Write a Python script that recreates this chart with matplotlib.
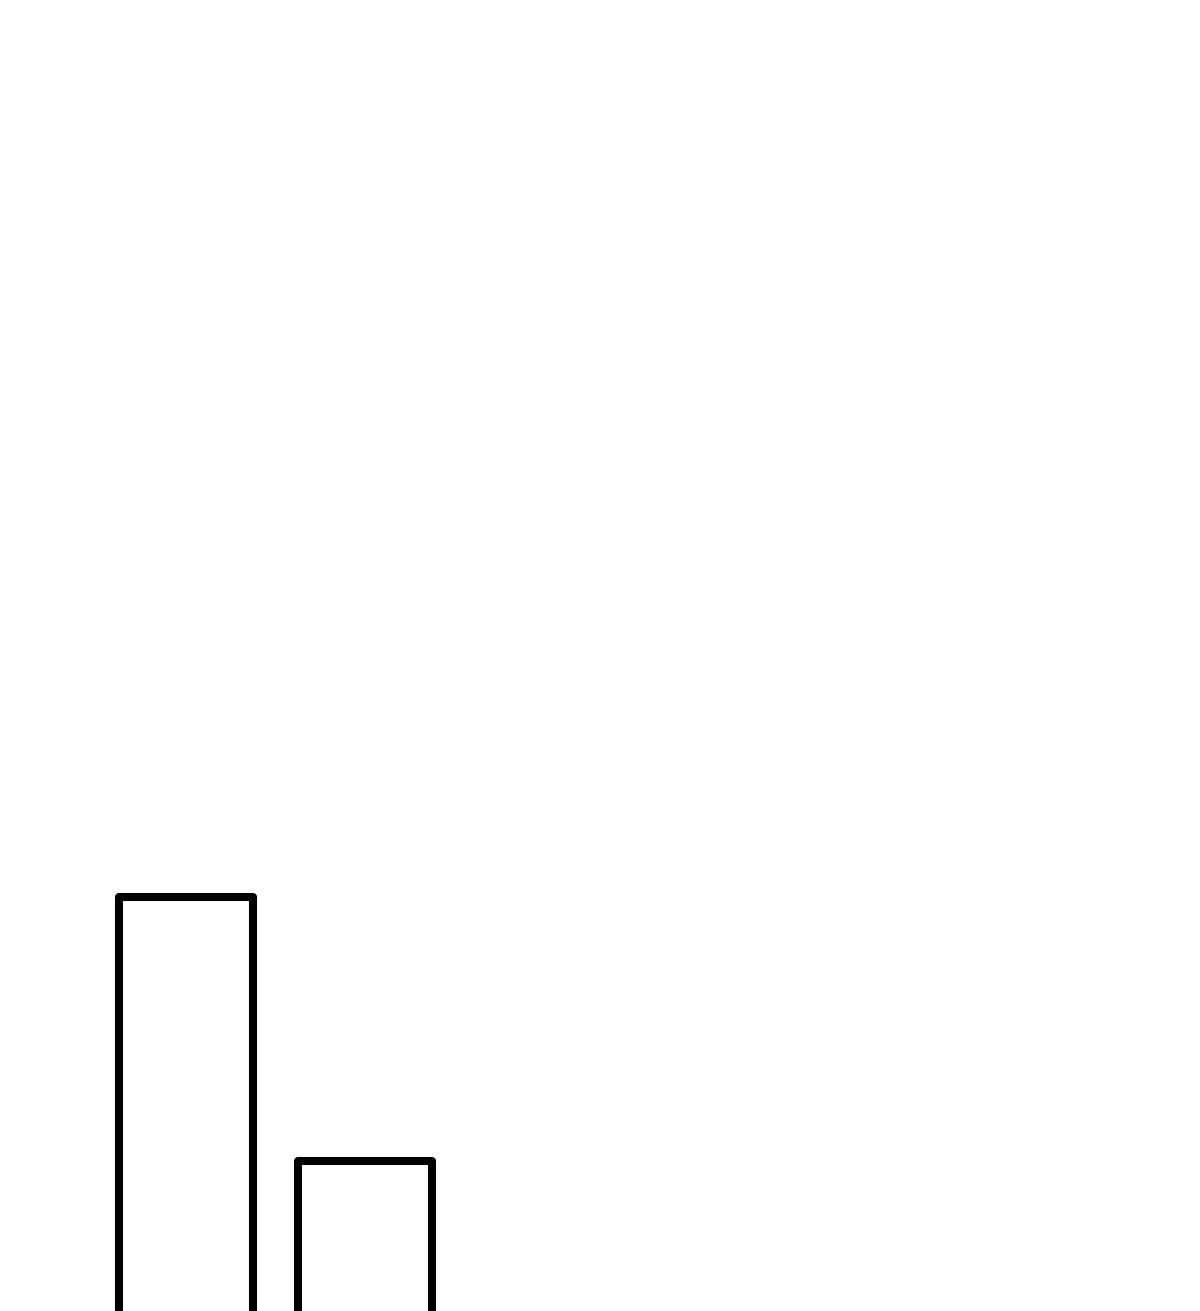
import matplotlib
matplotlib.use("Agg")
import matplotlib.pyplot as plt

categories = ["A", "B"]
values = [10.0, 5.5]

fig = plt.figure(figsize=(12, 13.11), dpi=100)
ax = fig.add_axes([0, 0, 1, 1])
bars = ax.bar(range(len(categories)), values, width=0.75,
              facecolor="white", edgecolor="black", linewidth=5.8)
for b in bars:
    b.set_joinstyle("round")
ax.set_xlim(-1.039, 5.665)
ax.set_ylim(2.943, 25.29)
ax.axis("off")
fig.savefig("out.png", dpi=100, facecolor="white")
